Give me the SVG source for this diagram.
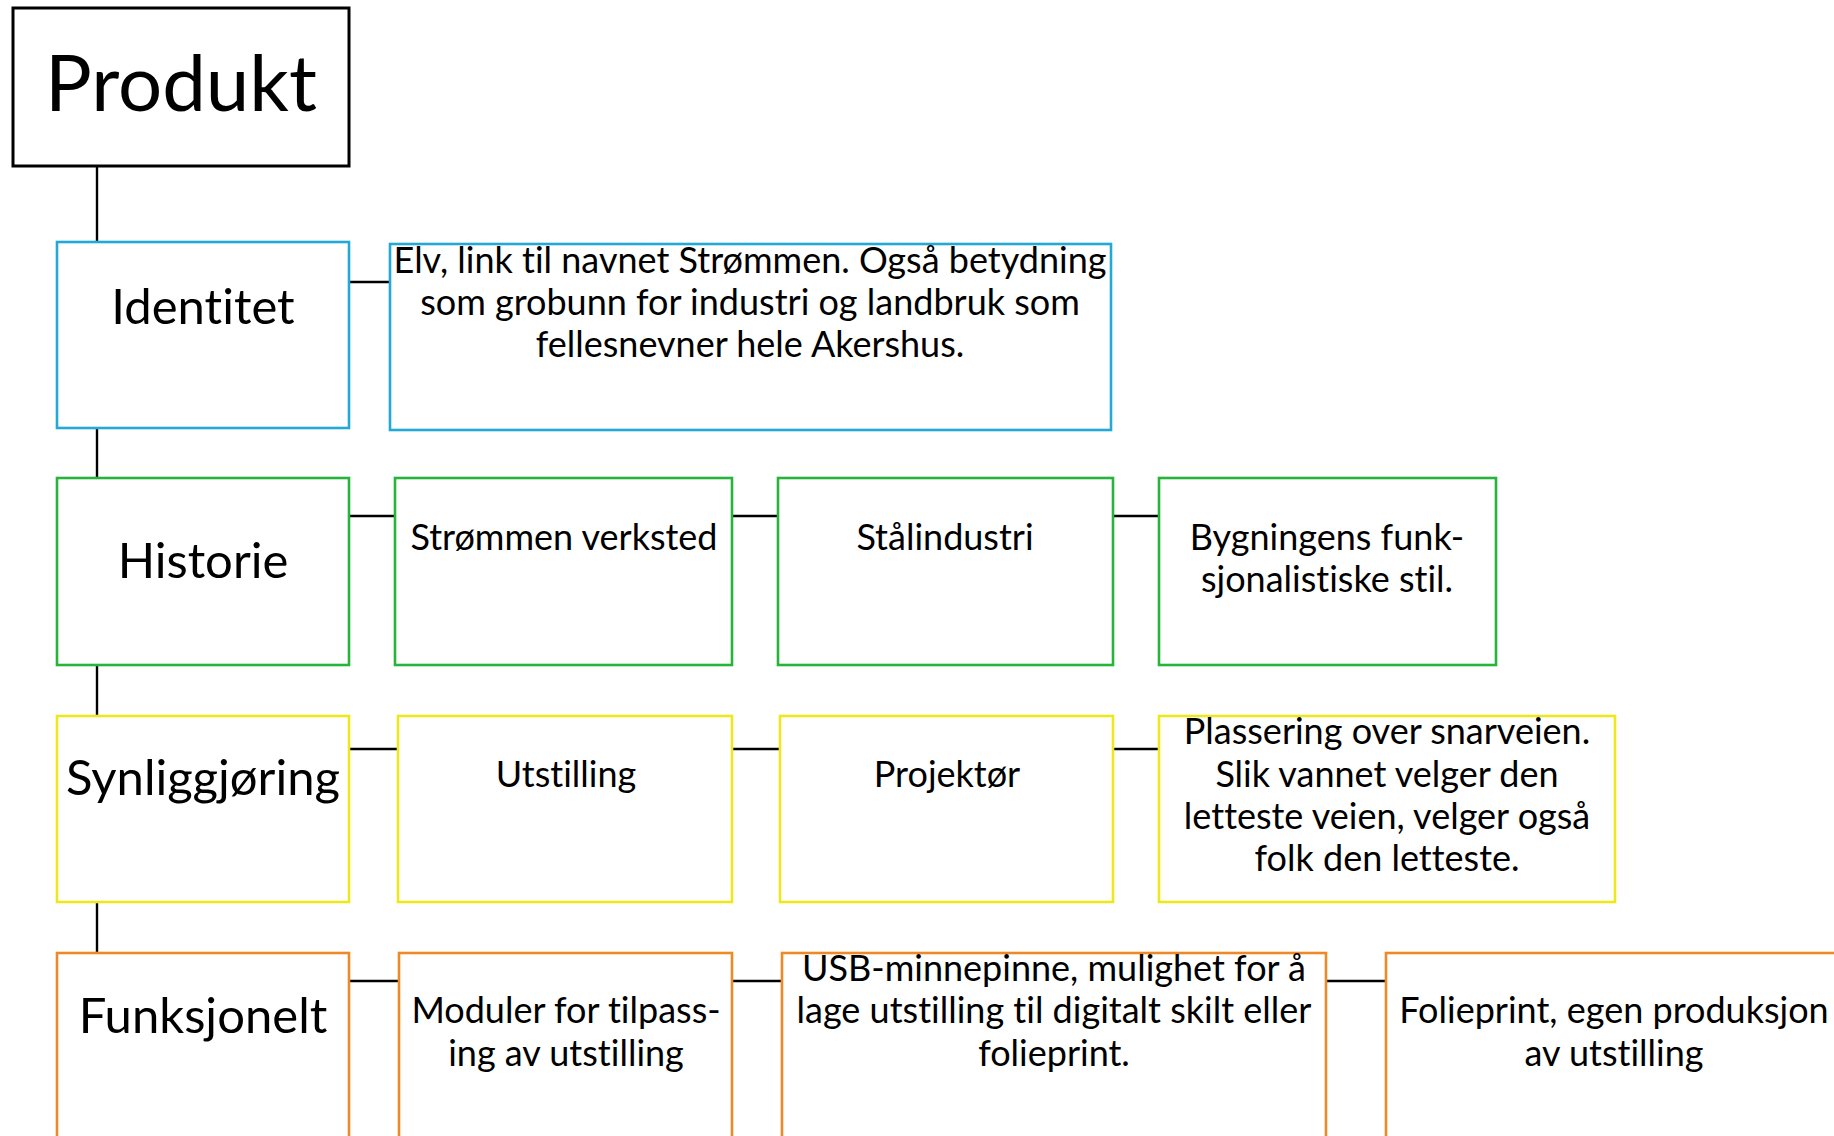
<svg xmlns="http://www.w3.org/2000/svg" width="1834" height="1136" viewBox="0 0 1834 1136">
<style>
rect{fill:#fff;stroke-width:2.6}
.k{stroke:#000;stroke-width:3}
.b{stroke:#22A9D8}
.g{stroke:#27B43B}
.y{stroke:#EDE81C}
.o{stroke:#EE8A26}
text{font-family:Lato,"Open Sans",sans-serif;fill:#000;text-anchor:middle;font-variant-ligatures:none;font-feature-settings:"liga" 0,"clig" 0}
.h{font-size:49px}
.t{font-size:36px}
#conn line{stroke:#000;stroke-width:2.4}
</style>
<rect width="1834" height="1136" style="stroke:none"/>
<g id="conn">
<line x1="97" y1="166" x2="97" y2="242"/>
<line x1="97" y1="428" x2="97" y2="478"/>
<line x1="97" y1="665" x2="97" y2="716"/>
<line x1="97" y1="902" x2="97" y2="953"/>
<line x1="349" y1="282" x2="390" y2="282"/>
<line x1="349" y1="516" x2="395" y2="516"/>
<line x1="732" y1="516" x2="778" y2="516"/>
<line x1="1113" y1="516" x2="1159" y2="516"/>
<line x1="349" y1="749" x2="398" y2="749"/>
<line x1="732" y1="749" x2="780" y2="749"/>
<line x1="1113" y1="749" x2="1159" y2="749"/>
<line x1="349" y1="981" x2="399" y2="981"/>
<line x1="732" y1="981" x2="782" y2="981"/>
<line x1="1326" y1="981" x2="1386" y2="981"/>
</g>
<g id="produkt"><rect class="k" x="13" y="8" width="336" height="158"/><text x="181" y="111" style="font-size:78px">Produkt</text></g>
<g id="identitet"><rect class="b" x="57" y="242" width="292" height="186"/><text class="h" x="203" y="324">Identitet</text></g>
<g id="elv"><rect class="b" x="390" y="244" width="721" height="186"/><text class="t" x="750"><tspan x="750" y="273">Elv, link til navnet Strømmen. Også betydning</tspan><tspan x="750" y="315">som grobunn for industri og landbruk som</tspan><tspan x="750" y="357">fellesnevner hele Akershus.</tspan></text></g>
<g id="historie"><rect class="g" x="57" y="478" width="292" height="187"/><text class="h" x="203" y="578">Historie</text></g>
<g id="stroemmen"><rect class="g" x="395" y="478" width="337" height="187"/><text class="t" x="564" y="550">Strømmen verksted</text></g>
<g id="staal"><rect class="g" x="778" y="478" width="335" height="187"/><text class="t" x="945" y="550">Stålindustri</text></g>
<g id="bygning"><rect class="g" x="1159" y="478" width="337" height="187"/><text class="t"><tspan x="1327" y="550">Bygningens funk-</tspan><tspan x="1327" y="592">sjonalistiske stil.</tspan></text></g>
<g id="synlig"><rect class="y" x="57" y="716" width="292" height="186"/><text class="h" x="203" y="795">Synliggjøring</text></g>
<g id="utstilling"><rect class="y" x="398" y="716" width="334" height="186"/><text class="t" x="566" y="787">Utstilling</text></g>
<g id="projektor"><rect class="y" x="780" y="716" width="333" height="186"/><text class="t" x="947" y="787">Projektør</text></g>
<g id="plassering"><rect class="y" x="1159" y="716" width="456" height="186"/><text class="t"><tspan x="1387" y="744">Plassering over snarveien.</tspan><tspan x="1387" y="787">Slik vannet velger den</tspan><tspan x="1387" y="829">letteste veien, velger også</tspan><tspan x="1387" y="871">folk den letteste.</tspan></text></g>
<g id="funksjonelt"><rect class="o" x="57" y="953" width="292" height="200"/><text class="h" x="203" y="1033">Funksjonelt</text></g>
<g id="moduler"><rect class="o" x="399" y="953" width="333" height="200"/><text class="t"><tspan x="566" y="1023">Moduler for tilpass-</tspan><tspan x="566" y="1066">ing av utstilling</tspan></text></g>
<g id="usb"><rect class="o" x="782" y="953" width="544" height="200"/><text class="t"><tspan x="1054" y="981">USB-minnepinne, mulighet for å</tspan><tspan x="1054" y="1023">lage utstilling til digitalt skilt eller</tspan><tspan x="1054" y="1066">folieprint.</tspan></text></g>
<g id="folieprint"><rect class="o" x="1386" y="953" width="500" height="200"/><text class="t"><tspan x="1614" y="1023">Folieprint, egen produksjon</tspan><tspan x="1614" y="1066">av utstilling</tspan></text></g>
</svg>
